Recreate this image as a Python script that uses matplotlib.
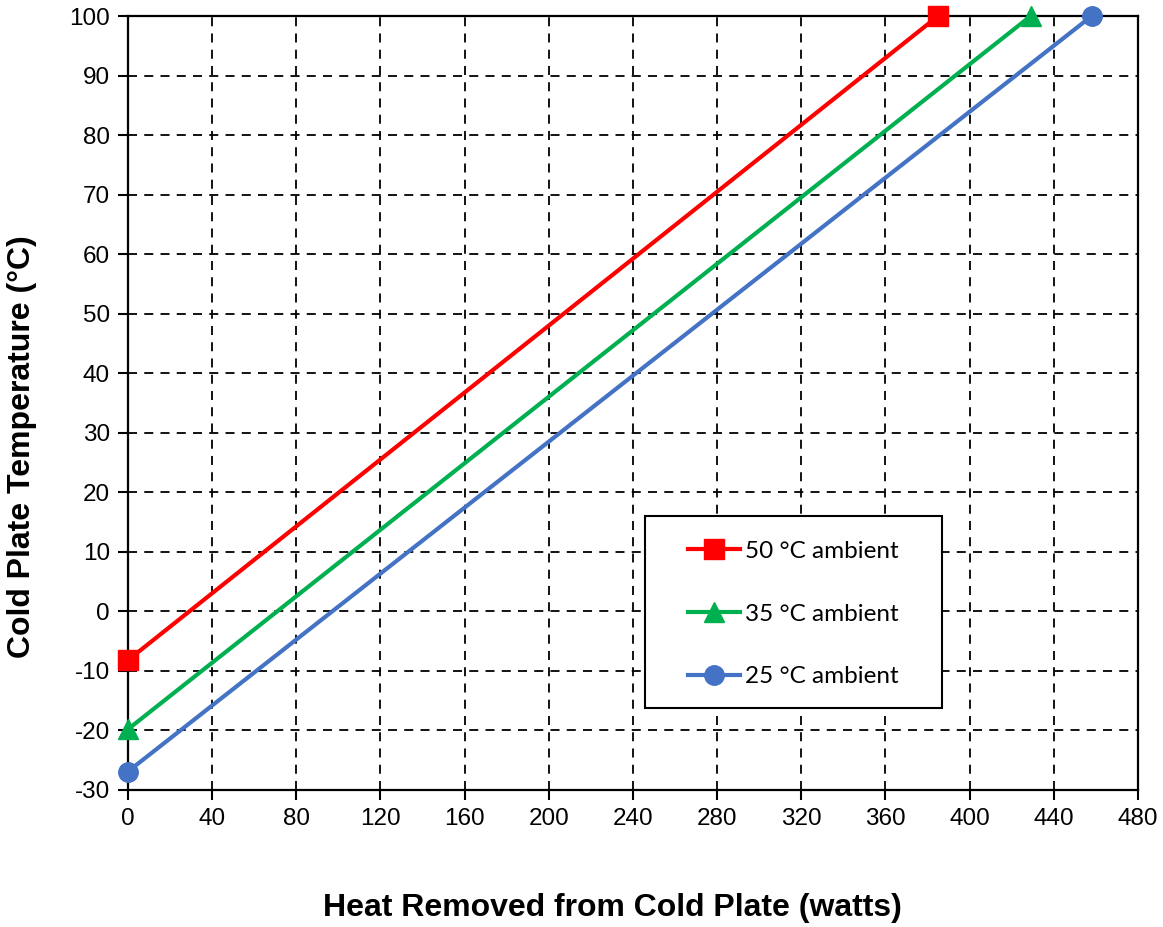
import matplotlib
matplotlib.use('Agg')
import matplotlib.pyplot as plt
from matplotlib.patches import Rectangle
from matplotlib.ticker import MultipleLocator

# heat removed (watts) vs cold plate temperature (C), endpoints
x_50 = [0, 385]
y_50 = [-8.2, 100]
x_35 = [0, 429]
y_35 = [-19.8, 100]
x_25 = [0, 458]
y_25 = [-26.9, 100]

labels = ['50 °C ambient', '35 °C ambient', '25 °C ambient']

plt.rcParams['font.family'] = ['Liberation Sans', 'DejaVu Sans']
plt.rcParams['axes.unicode_minus'] = False

fig = plt.figure(figsize=(11.63, 9.27), dpi=100)
ax = fig.add_axes([0.110, 0.1478, 0.8685, 0.8349])

ax.plot(x_50, y_50, color='#ff0000', lw=3, marker='s', ms=14, label=labels[0], zorder=3, clip_on=False)
ax.plot(x_35, y_35, color='#00b050', lw=3, marker='^', ms=15, label=labels[1], zorder=3, clip_on=False)
ax.plot(x_25, y_25, color='#4472c4', lw=3, marker='o', ms=14, label=labels[2], zorder=3, clip_on=False)

ax.set_xlim(0, 480)
ax.set_ylim(-30, 100)
ax.xaxis.set_major_locator(MultipleLocator(40))
ax.yaxis.set_major_locator(MultipleLocator(10))
ax.grid(True, color='black', ls=(0, (5, 4)), lw=1.3)
ax.set_axisbelow(True)
for s in ax.spines.values():
    s.set_linewidth(1.6)
ax.tick_params(labelsize=17.5, length=7, width=1.5, direction='out', pad=6)

ax.set_xlabel('Heat Removed from Cold Plate (watts)', fontsize=23, fontweight='bold', va='center')
ax.xaxis.set_label_coords(0.48, -0.152)
ax.set_ylabel('Cold Plate Temperature (°C)', fontsize=23, fontweight='bold', va='center')
ax.yaxis.set_label_coords(-0.105, 0.444)

# legend box (white panel with black border), legend entries drawn inside it
box = Rectangle((0.512, 0.106), 0.294, 0.248, transform=ax.transAxes,
                facecolor='white', edgecolor='black', lw=1.5, zorder=4)
ax.add_patch(box)
leg = ax.legend(loc='upper left', bbox_to_anchor=(0.5545, 0.322),
                prop={'family': 'Lato', 'size': 17.5}, frameon=False,
                handlelength=2.15, handletextpad=0.2, labelspacing=1.72,
                borderpad=0, borderaxespad=0, markerscale=1.0)
leg.set_zorder(5)

fig.savefig('out.png', dpi=100)
